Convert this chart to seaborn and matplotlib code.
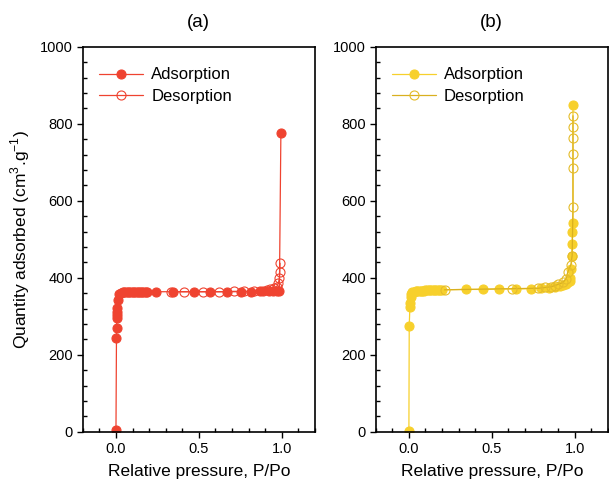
import matplotlib
matplotlib.use("Agg")
import matplotlib.pyplot as plt
from matplotlib.ticker import MultipleLocator
import seaborn as sns
import pandas as pd

# ---- data ----
a_ads_x = [0.0, 0.003, 0.004, 0.005, 0.006, 0.007, 0.008, 0.010, 0.02, 0.03, 0.04, 0.05,
           0.06, 0.07, 0.08, 0.09, 0.10, 0.11, 0.12, 0.13, 0.14, 0.15, 0.16, 0.17, 0.18,
           0.19, 0.24, 0.343, 0.47, 0.569, 0.667, 0.753, 0.812, 0.868, 0.888, 0.922,
           0.95, 0.972, 0.986, 0.995]
a_ads_y = [5, 244, 270, 296, 304, 312, 322, 343, 358, 361, 362, 362,
           362, 363, 363, 363, 363, 363, 363, 363, 363, 364, 364, 364, 364,
           364, 364, 364, 364, 364, 364, 364, 364, 365, 365, 365,
           366, 366, 367, 775]
a_des_x = [0.99, 0.988, 0.986, 0.98, 0.97, 0.955, 0.932, 0.912, 0.832, 0.772, 0.713,
           0.623, 0.523, 0.413, 0.333]
a_des_y = [438, 416, 399, 386, 377, 373, 370, 368, 366, 365, 365,
           364, 364, 364, 364]

b_ads_x = [0.0, 0.002, 0.006, 0.008, 0.010, 0.015, 0.02, 0.03, 0.04, 0.05, 0.06, 0.07,
           0.08, 0.09, 0.10, 0.11, 0.12, 0.13, 0.14, 0.15, 0.16, 0.17, 0.18, 0.19, 0.20,
           0.345, 0.45, 0.545, 0.645, 0.735, 0.80, 0.845, 0.88, 0.91, 0.93, 0.95, 0.96,
           0.97, 0.975, 0.98, 0.983, 0.985, 0.987, 0.99, 0.99]
b_ads_y = [3, 275, 325, 335, 351, 358, 362, 364, 365, 366, 366, 367,
           367, 367, 368, 368, 368, 368, 369, 369, 369, 369, 369, 369, 369,
           370, 370, 371, 371, 372, 373, 374, 376, 378, 381, 384, 388,
           393, 400, 423, 458, 488, 518, 543, 848]
b_des_x = [0.99, 0.99, 0.99, 0.99, 0.99, 0.99, 0.985, 0.977, 0.958, 0.948, 0.93, 0.90,
           0.88, 0.86, 0.82, 0.78, 0.62, 0.215]
b_des_y = [821, 793, 764, 722, 686, 585, 458, 434, 414, 398, 388, 383,
           380, 377, 375, 373, 372, 369]

titles = ["(a)", "(b)"]
x_label = "Relative pressure, P/Po"
y_label = "Quantity adsorbed (cm$^3$.g$^{-1}$)"
labels = ["Adsorption", "Desorption"]

red = "#EF4330"
gold = "#F7D02C"
gold_dark = "#D9B020"

sns.set_style("ticks")
plt.rcParams["font.family"] = ["Liberation Sans", "DejaVu Sans"]
plt.rcParams["mathtext.fontset"] = "custom"
plt.rcParams["mathtext.rm"] = "Liberation Sans"
plt.rcParams["text.color"] = "black"
plt.rcParams["axes.labelcolor"] = "black"
plt.rcParams["xtick.color"] = "black"
plt.rcParams["ytick.color"] = "black"

fig = plt.figure(figsize=(6.09, 4.88), dpi=100)
ax1 = fig.add_axes([0.136, 0.115, 0.381, 0.789])
ax2 = fig.add_axes([0.617, 0.115, 0.381, 0.789])

panels = [
    (ax1, a_ads_x, a_ads_y, a_des_x, a_des_y, red, red, red),
    (ax2, b_ads_x, b_ads_y, b_des_x, b_des_y, gold, gold_dark, "#E5BC2A"),
]

for i, (ax, ax_, ay_, dx_, dy_, col, dcol, dedge) in enumerate(panels):
    ads = pd.DataFrame({"x": ax_, "y": ay_})
    des = pd.DataFrame({"x": dx_, "y": dy_})
    sns.lineplot(data=ads, x="x", y="y", ax=ax, sort=False, estimator=None,
                 color=col, lw=0.9, marker="o", markersize=6.5,
                 markerfacecolor=col, markeredgecolor=col, markeredgewidth=0.8,
                 label=labels[0])
    sns.lineplot(data=des, x="x", y="y", ax=ax, sort=False, estimator=None,
                 color=dcol, lw=0.9, marker="o", markersize=6.5,
                 markerfacecolor="none", markeredgecolor=dedge, markeredgewidth=0.8,
                 label=labels[1])
    ax.set_xlim(-0.2, 1.2)
    ax.set_ylim(0, 1000)
    ax.xaxis.set_major_locator(MultipleLocator(0.5))
    ax.xaxis.set_minor_locator(MultipleLocator(0.1))
    ax.yaxis.set_major_locator(MultipleLocator(200))
    ax.yaxis.set_minor_locator(MultipleLocator(40))
    ax.set_xticks([0.0, 0.5, 1.0])
    ax.set_xticklabels(["0.0", "0.5", "1.0"])
    ax.tick_params(which="major", direction="out", length=4, width=1.0,
                   labelsize=10.5, colors="black", pad=3)
    ax.tick_params(which="minor", direction="in", length=3, width=1.0)
    for sp in ax.spines.values():
        sp.set_visible(True)
        sp.set_linewidth(1.2)
        sp.set_color("black")
    ax.set_xlabel(x_label, fontsize=12.5, labelpad=6)
    ax.set_ylabel(y_label if i == 0 else "", fontsize=12.5, labelpad=6)
    ax.set_title(titles[i], fontsize=13.5, pad=14)
    ax.legend(loc="upper left", bbox_to_anchor=(0.0, 0.99), frameon=False,
              fontsize=12, handlelength=2.6, handletextpad=0.5,
              labelspacing=0.4, borderaxespad=0.6)

fig.savefig("out.png", dpi=100)
